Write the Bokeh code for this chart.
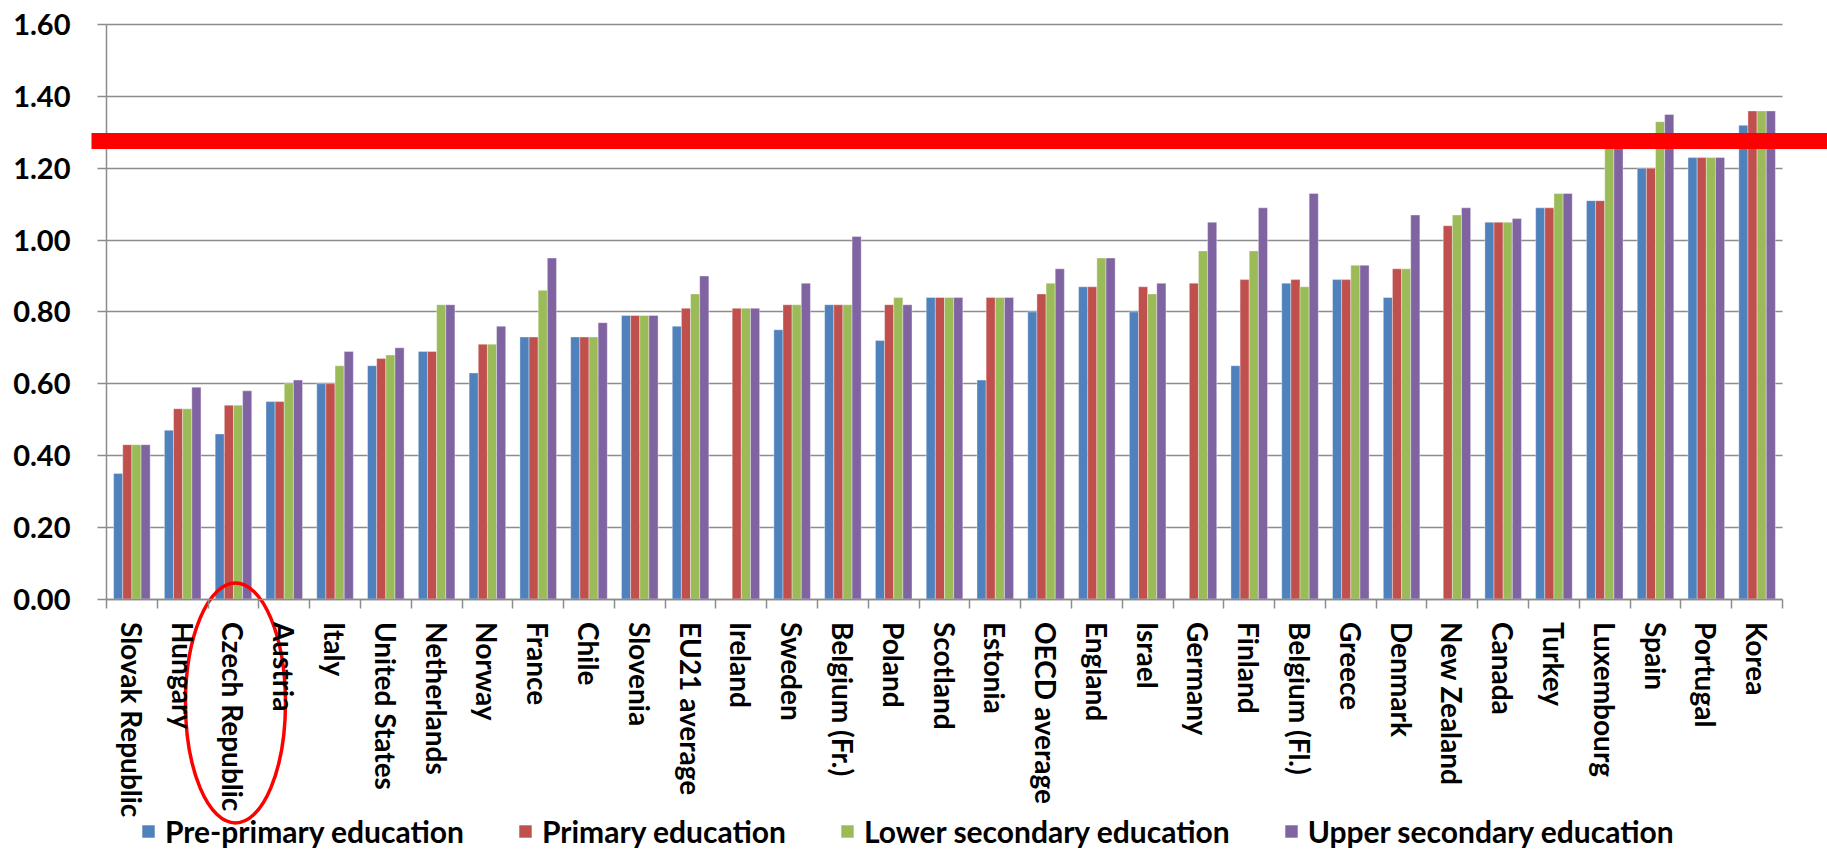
import numpy as np
from bokeh.plotting import figure
from bokeh.models import (Range1d, LinearAxis, FixedTicker, NumeralTickFormatter,
                          BoxAnnotation, Legend, LegendItem)
from bokeh.transform import dodge
from bokeh.embed import file_html
from bokeh.resources import INLINE

nan = float("nan")

categories = ["Slovak Republic", "Hungary", "Czech Republic", "Austria", "Italy",
              "United States", "Netherlands", "Norway", "France", "Chile", "Slovenia",
              "EU21 average", "Ireland", "Sweden", "Belgium (Fr.)", "Poland", "Scotland",
              "Estonia", "OECD average", "England", "Israel", "Germany", "Finland",
              "Belgium (Fl.)", "Greece", "Denmark", "New Zealand", "Canada", "Turkey",
              "Luxembourg", "Spain", "Portugal", "Korea"]

pre_primary = [0.35, 0.47, 0.46, 0.55, 0.60, 0.65, 0.69, 0.63, 0.73, 0.73, 0.79,
               0.76, nan, 0.75, 0.82, 0.72, 0.84, 0.61, 0.80, 0.87, 0.80, nan,
               0.65, 0.88, 0.89, 0.84, nan, 1.05, 1.09, 1.11, 1.20, 1.23, 1.32]
primary = [0.43, 0.53, 0.54, 0.55, 0.60, 0.67, 0.69, 0.71, 0.73, 0.73, 0.79,
           0.81, 0.81, 0.82, 0.82, 0.82, 0.84, 0.84, 0.85, 0.87, 0.87, 0.88,
           0.89, 0.89, 0.89, 0.92, 1.04, 1.05, 1.09, 1.11, 1.20, 1.23, 1.36]
lower_secondary = [0.43, 0.53, 0.54, 0.60, 0.65, 0.68, 0.82, 0.71, 0.86, 0.73, 0.79,
                   0.85, 0.81, 0.82, 0.82, 0.84, 0.84, 0.84, 0.88, 0.95, 0.85, 0.97,
                   0.97, 0.87, 0.93, 0.92, 1.07, 1.05, 1.13, 1.27, 1.33, 1.23, 1.36]
upper_secondary = [0.43, 0.59, 0.58, 0.61, 0.69, 0.70, 0.82, 0.76, 0.95, 0.77, 0.79,
                   0.90, 0.81, 0.88, 1.01, 0.82, 0.84, 0.84, 0.92, 0.95, 0.88, 1.05,
                   1.09, 1.13, 0.93, 1.07, 1.09, 1.06, 1.13, 1.27, 1.35, 1.23, 1.36]

series_names = ["Pre-primary education", "Primary education",
                "Lower secondary education", "Upper secondary education"]
series_colors = ["#4F81BD", "#C0504D", "#9BBB59", "#8064A2"]
y_ticks = [0.0, 0.2, 0.4, 0.6, 0.8, 1.0, 1.2, 1.4, 1.6]
threshold = 1.276
highlighted = "Czech Republic"

FONT = "Lato"
GRAY = "#8C8C8C"
W, H = 1827, 849

n = len(categories)
centers = [i + 0.5 for i in range(n)]
bounds = list(range(n + 1))

source = dict(xc=centers, pre=pre_primary, pri=primary,
              low=lower_secondary, upp=upper_secondary)

# whole canvas is the frame; the plot area is placed through the ranges
x_px0, x_px1 = 106, 1782           # pixel position of first category start / last end
y_px_top, y_px_zero = 24.3, 598.5  # pixel position of 1.60 and 0.00
ux = (x_px1 - x_px0) / n
uy = (y_px_zero - y_px_top) / 1.6
x_range = Range1d(-x_px0 / ux, n + (W - x_px1) / ux)
y_range = Range1d(-(H - y_px_zero) / uy, 1.6 + y_px_top / uy)

p = figure(x_range=x_range, y_range=y_range, width=W, height=H,
           output_backend="svg", toolbar_location=None,
           x_axis_location=None, y_axis_location=None,
           min_border=0)
p.outline_line_color = None
p.xgrid.visible = False
p.ygrid.ticker = FixedTicker(ticks=y_ticks)
p.ygrid.grid_line_color = GRAY
p.ygrid.grid_line_width = 1.5
p.ygrid.bounds = (0, 1.6)
p.ygrid.cross_bounds = (0, n)

# y axis
yax = LinearAxis(ticker=FixedTicker(ticks=y_ticks), fixed_location=0, bounds=(0, 1.6),
                 formatter=NumeralTickFormatter(format="0.00"))
yax.axis_line_color = GRAY
yax.axis_line_width = 1.5
yax.major_tick_line_color = GRAY
yax.major_tick_line_width = 1.5
yax.major_tick_out = 9
yax.major_tick_in = 0
yax.minor_tick_line_color = None
yax.major_label_text_font = FONT
yax.major_label_text_font_style = "bold"
yax.major_label_text_font_size = "29px"
yax.major_label_text_color = "black"
yax.major_label_standoff = 27
p.add_layout(yax, "left")

# x axis: labels at category centres, tick marks between categories
xax = LinearAxis(ticker=FixedTicker(ticks=centers, minor_ticks=bounds),
                 fixed_location=0, bounds=(0, n),
                 major_label_overrides={c: name for c, name in zip(centers, categories)})
xax.axis_line_color = GRAY
xax.axis_line_width = 1.5
xax.major_tick_line_color = None
xax.major_tick_out = 0
xax.major_tick_in = 0
xax.minor_tick_line_color = GRAY
xax.minor_tick_line_width = 1.5
xax.minor_tick_out = 9
xax.minor_tick_in = 0
xax.major_label_orientation = "vertical"
xax.major_label_text_font = FONT
xax.major_label_text_font_style = "bold"
xax.major_label_text_font_size = "28px"
xax.major_label_text_color = "black"
xax.major_label_standoff = 14
p.add_layout(xax, "below")

keys = ["pre", "pri", "low", "upp"]
offsets = [-0.27, -0.09, 0.09, 0.27]
renderers = []
for key, off, col in zip(keys, offsets, series_colors):
    r = p.vbar(x=dodge("xc", off), top=key, width=0.18,
               source=source, fill_color=col, line_color="white",
               line_width=0.6, line_alpha=0.6)
    renderers.append(r)

# red threshold band, running from left of the axis to the right edge
band = BoxAnnotation(left=-15 / ux, right=x_range.end,
                     bottom=threshold - 8 / uy, top=threshold + 8 / uy,
                     fill_color="#FF0000", fill_alpha=1.0, line_color=None)
p.add_layout(band)

# red ellipse around the highlighted category label
hx = categories.index(highlighted) + 0.5
p.ellipse(x=[hx + 2 / ux], y=[-104 / uy], width=[100 / ux], height=[240 / uy],
          fill_alpha=0, line_color="#FF0000", line_width=3.5)

legend = Legend(items=[LegendItem(label=nm, renderers=[r])
                       for nm, r in zip(series_names, renderers)],
                orientation="horizontal", location=(140, 0),
                glyph_width=16, glyph_height=16, label_standoff=9, spacing=53,
                padding=0, margin=0, border_line_color=None,
                background_fill_alpha=0,
                label_text_font=FONT, label_text_font_style="bold",
                label_text_font_size="30px", label_text_color="black")
p.add_layout(legend, "center")

open("out.html", "w").write(file_html(p, INLINE))
